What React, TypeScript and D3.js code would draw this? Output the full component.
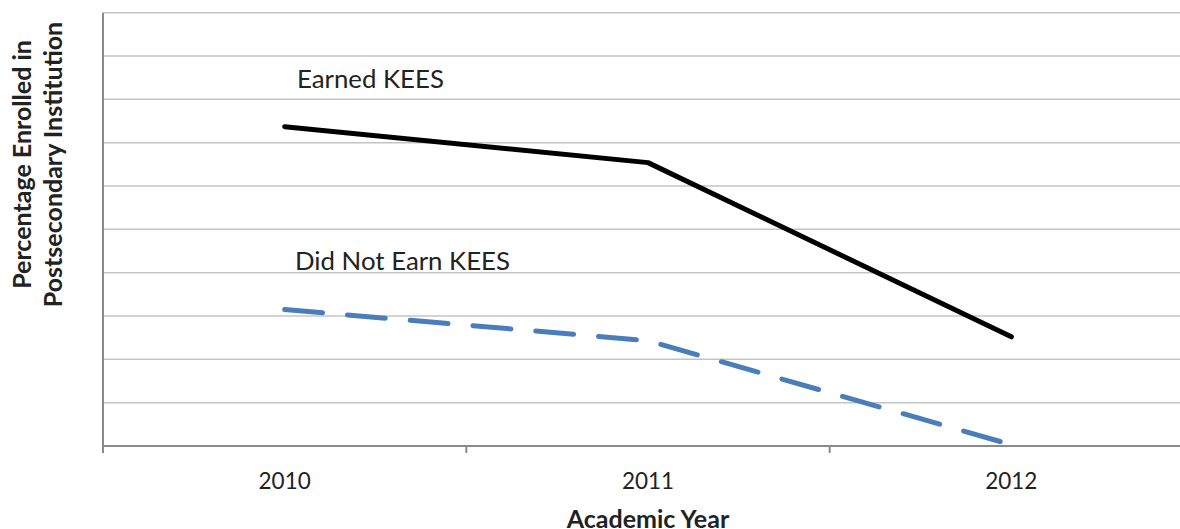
import React from "react";
import * as d3 from "d3";

const categories = ["2010", "2011", "2012"];
const earnedKEES = [73.7, 65.4, 25.2];
const didNotEarnKEES = [31.5, 24.3, 0.3];
const yTicks = [0, 10, 20, 30, 40, 50, 60, 70, 80, 90, 100];

const W = 1180;
const H = 529;
const margin = { left: 103, top: 12.7, right: 1193, bottom: 446 };

export default function App() {
  const x = d3.scaleBand<string>().domain(categories).range([margin.left, margin.right]).padding(0);
  const y = d3.scaleLinear().domain([0, 100]).range([margin.bottom, margin.top]);
  const cx = (c: string) => (x(c) as number) + x.bandwidth() / 2;

  const line = d3
    .line<number>()
    .x((_, i) => cx(categories[i]))
    .y((d) => y(d));

  const tickXs = [...categories.map((c) => x(c) as number), margin.right];
  const font = "Lato, Carlito, Calibri, 'Open Sans', sans-serif";

  return (
    <svg
      width={W}
      height={H}
      style={{ position: "absolute", left: 0, top: 0, background: "#fff" }}
      fontFamily={font}
    >
      {yTicks.slice(1).map((t) => (
        <line key={t} x1={margin.left} x2={margin.right} y1={y(t)} y2={y(t)} stroke="#c4c4c4" strokeWidth={1.5} />
      ))}
      <line x1={margin.left} x2={margin.left} y1={margin.top} y2={margin.bottom} stroke="#8a8a8a" strokeWidth={2} />
      <line x1={margin.left} x2={margin.right} y1={margin.bottom} y2={margin.bottom} stroke="#8a8a8a" strokeWidth={2} />
      {tickXs.map((tx, i) => (
        <line key={i} x1={tx} x2={tx} y1={margin.bottom} y2={margin.bottom + 7} stroke="#8a8a8a" strokeWidth={2} />
      ))}
      {categories.map((c) => (
        <text key={c} x={cx(c)} y={489} textAnchor="middle" fontSize={22.5} fill="#222">
          {c}
        </text>
      ))}
      <path d={line(earnedKEES) || ""} fill="none" stroke="#000" strokeWidth={5} strokeLinecap="round" strokeLinejoin="round" />
      <path
        d={line(didNotEarnKEES) || ""}
        fill="none"
        stroke="#4a7ebb"
        strokeWidth={5}
        strokeLinecap="round"
        strokeLinejoin="round"
        strokeDasharray="38 25"
      />
      <text x={297} y={88} fontSize={25.8} fill="#222">Earned KEES</text>
      <text x={295} y={269.5} fontSize={25.8} fill="#222">Did Not Earn KEES</text>
      <text x={648} y={528} textAnchor="middle" fontSize={25} fontWeight="bold" fill="#222">
        Academic Year
      </text>
      <g transform="translate(0,164.5) rotate(-90)">
        <text x={0} y={31} textAnchor="middle" fontSize={25} fontWeight="bold" fill="#222">
          Percentage Enrolled in
        </text>
        <text x={0} y={61.5} textAnchor="middle" fontSize={25} fontWeight="bold" fill="#222">
          Postsecondary Institution
        </text>
      </g>
    </svg>
  );
}
